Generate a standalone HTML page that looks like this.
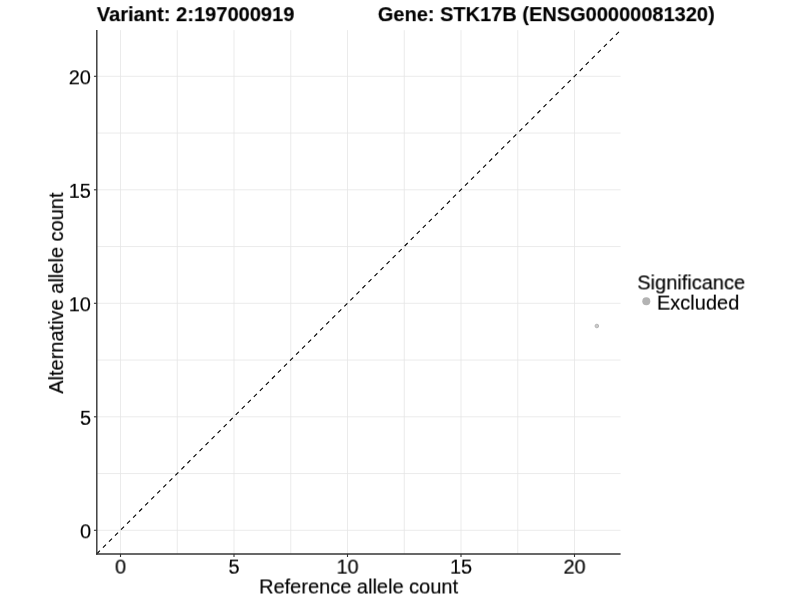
<!DOCTYPE html>
<html><head><meta charset="utf-8"><title>Allele counts</title>
<style>
html,body{margin:0;padding:0;background:#fff;}
body{width:800px;height:600px;position:relative;overflow:hidden;font-family:"Liberation Sans",sans-serif;color:#000;font-size:20px;}
svg{position:absolute;left:0;top:0;}
.t{position:absolute;left:0;top:0;white-space:nowrap;line-height:20px;transform-origin:0 0;-webkit-text-stroke:0.15px #000;}
.title{font-weight:bold;}
.xt{width:60px;text-align:center;}
.yt{width:60px;text-align:right;}
</style></head><body>
<svg width="800" height="600" viewBox="0 0 800 600">
<g stroke="#e6e6e6" stroke-width="0.8" fill="none"><line x1="120.50" y1="30.10" x2="120.50" y2="553.75"/><line x1="96.90" y1="530.30" x2="620.60" y2="530.30"/><line x1="177.25" y1="30.10" x2="177.25" y2="553.75"/><line x1="96.90" y1="473.55" x2="620.60" y2="473.55"/><line x1="234.00" y1="30.10" x2="234.00" y2="553.75"/><line x1="96.90" y1="416.80" x2="620.60" y2="416.80"/><line x1="290.75" y1="30.10" x2="290.75" y2="553.75"/><line x1="96.90" y1="360.05" x2="620.60" y2="360.05"/><line x1="347.50" y1="30.10" x2="347.50" y2="553.75"/><line x1="96.90" y1="303.30" x2="620.60" y2="303.30"/><line x1="404.25" y1="30.10" x2="404.25" y2="553.75"/><line x1="96.90" y1="246.55" x2="620.60" y2="246.55"/><line x1="461.00" y1="30.10" x2="461.00" y2="553.75"/><line x1="96.90" y1="189.80" x2="620.60" y2="189.80"/><line x1="517.75" y1="30.10" x2="517.75" y2="553.75"/><line x1="96.90" y1="133.05" x2="620.60" y2="133.05"/><line x1="574.50" y1="30.10" x2="574.50" y2="553.75"/><line x1="96.90" y1="76.30" x2="620.60" y2="76.30"/></g>
<line x1="96.90" y1="553.75" x2="620.60" y2="30.10" stroke="#000" stroke-width="1.1" stroke-dasharray="4.267 4.267"/>
<circle cx="596.85" cy="326.00" r="1.8" fill="#cacaca" stroke="#b6b6b6" stroke-width="1"/>
<line x1="96.80" y1="30.10" x2="96.80" y2="554.70" stroke="#333" stroke-width="1.4"/>
<line x1="96.10" y1="553.95" x2="620.60" y2="553.95" stroke="#363636" stroke-width="1.45"/>
<g stroke="#333" stroke-width="1.1" fill="none"><line x1="120.50" y1="553.95" x2="120.50" y2="557.00"/><line x1="93.95" y1="530.30" x2="96.80" y2="530.30"/><line x1="234.00" y1="553.95" x2="234.00" y2="557.00"/><line x1="93.95" y1="416.80" x2="96.80" y2="416.80"/><line x1="347.50" y1="553.95" x2="347.50" y2="557.00"/><line x1="93.95" y1="303.30" x2="96.80" y2="303.30"/><line x1="461.00" y1="553.95" x2="461.00" y2="557.00"/><line x1="93.95" y1="189.80" x2="96.80" y2="189.80"/><line x1="574.50" y1="553.95" x2="574.50" y2="557.00"/><line x1="93.95" y1="76.30" x2="96.80" y2="76.30"/></g>
<circle cx="646.3" cy="301.2" r="4" fill="#b3b3b3"/>
</svg>
<div class="t title" style="transform:translate3d(96.80px,4.15px,0) rotateX(0.01deg);letter-spacing:0.04px">Variant: 2:197000919</div>
<div class="t title" style="transform:translate3d(377.80px,4.15px,0) rotateX(0.01deg);">Gene: STK17B (ENSG00000081320)</div>
<div class="t xt" style="transform:translate3d(90.50px,556.60px,0) rotateX(0.01deg);">0</div><div class="t xt" style="transform:translate3d(204.00px,556.60px,0) rotateX(0.01deg);">5</div><div class="t xt" style="transform:translate3d(317.50px,556.60px,0) rotateX(0.01deg);">10</div><div class="t xt" style="transform:translate3d(431.00px,556.60px,0) rotateX(0.01deg);">15</div><div class="t xt" style="transform:translate3d(544.50px,556.60px,0) rotateX(0.01deg);">20</div><div class="t yt" style="transform:translate3d(31.00px,521.30px,0) rotateX(0.01deg);">0</div><div class="t yt" style="transform:translate3d(31.00px,407.80px,0) rotateX(0.01deg);">5</div><div class="t yt" style="transform:translate3d(31.00px,294.30px,0) rotateX(0.01deg);">10</div><div class="t yt" style="transform:translate3d(31.00px,180.80px,0) rotateX(0.01deg);">15</div><div class="t yt" style="transform:translate3d(31.00px,67.30px,0) rotateX(0.01deg);">20</div>
<div class="t " style="transform:translate3d(259.10px,576.50px,0) rotateX(0.01deg);">Reference allele count</div>
<div class="t" style="transform:translate(56.10px,293.10px) rotate(-90deg) translate(-50%,-50%);">Alternative allele count</div>
<div class="t " style="transform:translate3d(637.30px,272.40px,0) rotateX(0.01deg);">Significance</div>
<div class="t " style="transform:translate3d(656.90px,292.60px,0) rotateX(0.01deg);">Excluded</div>
</body></html>
